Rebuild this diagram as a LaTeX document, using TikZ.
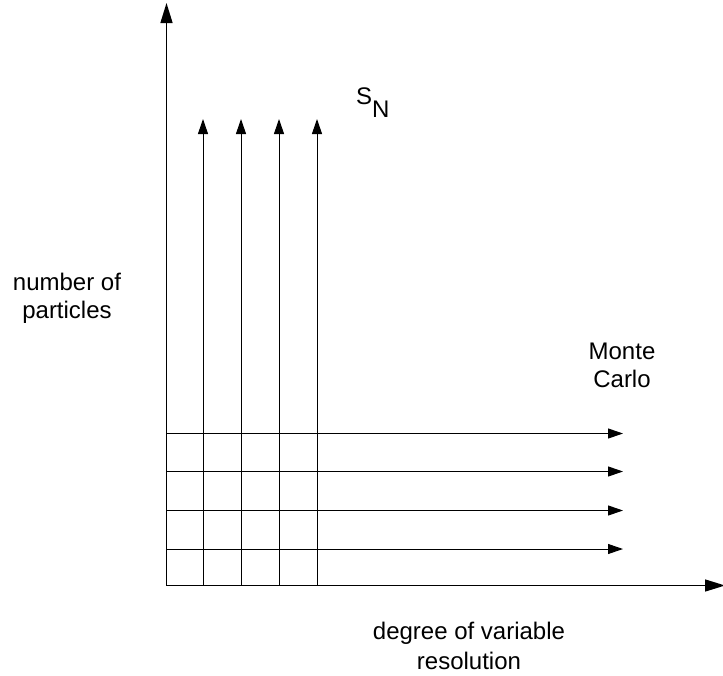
\documentclass[tikz,border=0pt]{standalone}
\usepackage{fontspec}
\setmainfont{Liberation Sans}
\usetikzlibrary{arrows.meta}
\tikzset{
  axis/.style={line width=1.4pt, -{Triangle[length=20pt,width=12pt]}},
  flux/.style={line width=1pt, -{Triangle[length=15pt,width=10pt]}},
  lbl/.style={inner sep=0pt, align=center, font=\fontsize{24}{28}\selectfont}
}
\begin{document}
\begin{tikzpicture}[x=1pt,y=-1pt]
\useasboundingbox (0,0) rectangle (723,675);
% axes
\coordinate (O) at (166.5,585.5);
\coordinate (Ytip) at (166.5,3);
\coordinate (Xtip) at (725,585.5);
\draw[axis] (O) -- (Ytip);
\draw[axis] (O) -- (Xtip);
% vertical (S_N) arrows
\foreach \i/\x in {1/203, 2/241, 3/279, 4/317} {
  \coordinate (vb\i) at (\x,585.5);
  \coordinate (vt\i) at (\x,119);
  \draw[flux] (vb\i) -- (vt\i);
}
% horizontal (Monte Carlo) arrows
\foreach \i/\y in {1/433.5, 2/471.5, 3/510.5, 4/549} {
  \coordinate (hl\i) at (166.5,\y);
  \coordinate (hr\i) at (623,\y);
  \draw[flux] (hl\i) -- (hr\i);
}
% labels
\node[lbl, anchor=base west] (SN) at (356,104) {S\raisebox{-13pt}{N}};
\node[lbl, anchor=center] (ylabel) at (67,298) {number of\\particles};
\node[lbl, anchor=center] (mc) at (622,365) {Monte\\Carlo};
\node[lbl, anchor=center, font=\fontsize{24}{30}\selectfont] (xlabel) at (469,646) {degree of variable\\resolution};
\end{tikzpicture}
\end{document}
